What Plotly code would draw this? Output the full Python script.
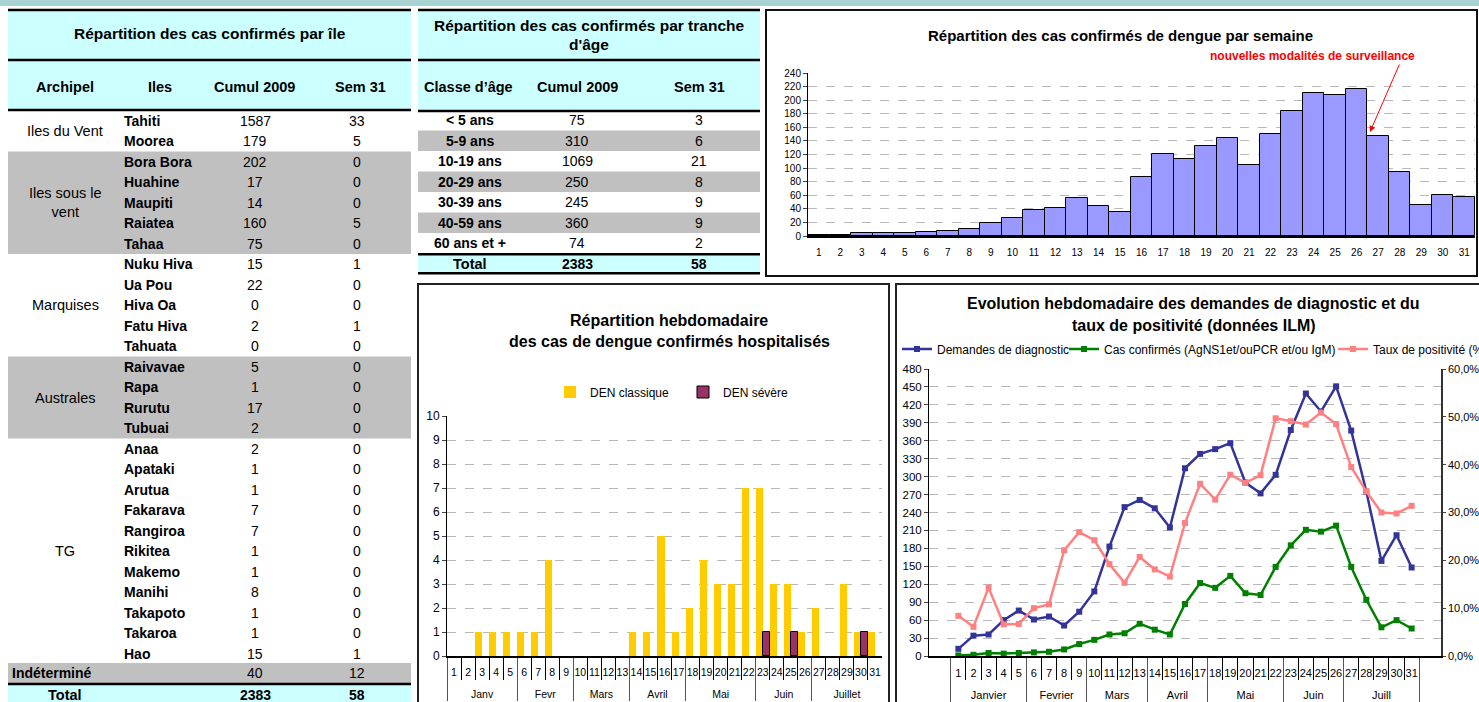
import plotly.graph_objects as go

W, H = 1479, 702
FONT = "Liberation Sans, Arial, sans-serif"


def X(p):
    return p / W


def Y(p):
    return 1 - p / H


# ---------------- data ----------------
archipels = ["Iles du Vent", "Iles sous le<br>vent", "Marquises", "Australes", "TG"]
archipel_sizes = [2, 5, 5, 4, 11]
iles = ["Tahiti", "Moorea", "Bora Bora", "Huahine", "Maupiti", "Raiatea", "Tahaa",
        "Nuku Hiva", "Ua Pou", "Hiva Oa", "Fatu Hiva", "Tahuata",
        "Raivavae", "Rapa", "Rurutu", "Tubuai",
        "Anaa", "Apataki", "Arutua", "Fakarava", "Rangiroa", "Rikitea", "Makemo",
        "Manihi", "Takapoto", "Takaroa", "Hao"]
cumul_iles = [1587, 179, 202, 17, 14, 160, 75, 15, 22, 0, 2, 0, 5, 1, 17, 2,
              2, 1, 1, 7, 7, 1, 1, 8, 1, 1, 15]
sem31_iles = [33, 5, 0, 0, 0, 5, 0, 1, 0, 0, 1, 0, 0, 0, 0, 0,
              0, 0, 0, 0, 0, 0, 0, 0, 0, 0, 1]
indetermine = ["Indéterminé", 40, 12]
total_iles = ["Total", 2383, 58]

classes_age = ["< 5 ans", "5-9 ans", "10-19 ans", "20-29 ans", "30-39 ans", "40-59 ans", "60 ans et +"]
cumul_age = [75, 310, 1069, 250, 245, 360, 74]
sem31_age = [3, 6, 21, 8, 9, 9, 2]
total_age = ["Total", 2383, 58]

weeks = [str(i) for i in range(1, 32)]
cas_semaine = [1, 2, 5, 5, 5, 6, 8, 11, 19, 27, 39, 41, 56, 44, 35, 87, 121, 113, 133, 145,
               104, 150, 184, 211, 208, 217, 147, 94, 46, 60, 58]

mois_hosp = ["Janv", "Fevr", "Mars", "Avril", "Mai", "Juin", "Juillet"]
mois_ilm = ["Janvier", "Fevrier", "Mars", "Avril", "Mai", "Juin", "Juill"]
semaines_par_mois = [5, 4, 4, 4, 5, 4, 5]
den_classique = [0, 0, 1, 1, 1, 1, 1, 4, 0, 0, 0, 0, 0, 1, 1, 5, 1, 2, 4, 3, 3, 7, 7, 3, 3, 1,
                 2, 0, 3, 1, 1]
den_severe = [0, 0, 0, 0, 0, 0, 0, 0, 0, 0, 0, 0, 0, 0, 0, 0, 0, 0, 0, 0, 0, 0, 1, 0, 1, 0,
              0, 0, 0, 1, 0]

demandes = [12, 34, 36, 60, 76, 61, 66, 51, 74, 108, 183, 249, 261, 247, 215, 314, 338, 346,
            356, 290, 272, 303, 378, 439, 409, 451, 377, 275, 159, 202, 148]
confirmes = [1, 2, 5, 4, 5, 6, 7, 11, 20, 27, 36, 38, 54, 44, 36, 87, 122, 114, 134, 105, 102,
             149, 185, 211, 208, 218, 149, 94, 48, 60, 46]
positivite = [8.4, 6.1, 14.3, 6.6, 6.7, 10.0, 10.8, 22.1, 25.9, 24.2, 19.2, 15.3, 20.7, 18.1,
              16.6, 27.8, 36.0, 32.7, 37.9, 36.2, 37.8, 49.7, 49.1, 48.4, 50.9, 48.5, 39.5,
              34.4, 30.0, 29.8, 31.4]

# ---------------- colours ----------------
CYAN = "#ccffff"
GRAY = "#c0c0c0"
TEAL = "#a9d3d3"

fig = go.Figure()

# top chart: weekly confirmed cases
fig.add_trace(go.Bar(x=weeks, y=cas_semaine, xaxis="x", yaxis="y", showlegend=False,
                     marker=dict(color="#9999ff", line=dict(color="black", width=1))))

# month level of the two-level week axes (blank first line pushes months below the weeks)
lvl_hosp = ["<br>" + m for m, n in zip(mois_hosp, semaines_par_mois) for _ in range(n)]
lvl_ilm = ["<br>" + m for m, n in zip(mois_ilm, semaines_par_mois) for _ in range(n)]

# hospitalised (multicategory)
fig.add_trace(go.Bar(x=[lvl_hosp, weeks], y=[v if v else None for v in den_classique],
                     name="DEN classique", xaxis="x2", yaxis="y2", legend="legend",
                     marker=dict(color="#ffcc00", line=dict(width=0))))
fig.add_trace(go.Bar(x=[lvl_hosp, weeks], y=[v if v else None for v in den_severe],
                     name="DEN sévère", xaxis="x2", yaxis="y2", legend="legend2",
                     marker=dict(color="#993366", line=dict(color="black", width=1))))

# ILM lines
fig.add_trace(go.Scatter(x=[lvl_ilm, weeks], y=demandes, name="Demandes de diagnostic",
                         mode="lines+markers", xaxis="x3", yaxis="y3", legend="legend3",
                         line=dict(color="#333399", width=2.5),
                         marker=dict(symbol="square", size=6, color="#333399")))
fig.add_trace(go.Scatter(x=[lvl_ilm, weeks], y=confirmes,
                         name="Cas confirmés (AgNS1et/ouPCR et/ou IgM)",
                         mode="lines+markers", xaxis="x3", yaxis="y3", legend="legend4",
                         line=dict(color="#008000", width=2.5),
                         marker=dict(symbol="square", size=6, color="#008000")))
fig.add_trace(go.Scatter(x=[lvl_ilm, weeks], y=positivite, name="Taux de positivité (%)",
                         mode="lines+markers", xaxis="x3", yaxis="y4", legend="legend5",
                         line=dict(color="#ff8080", width=2.5),
                         marker=dict(symbol="square", size=6, color="#ff8080")))

shapes = []


def rect(x0, y0, x1, y1, fill=None, line_color=None, lw=0, layer="below"):
    shapes.append(dict(type="rect", xref="paper", yref="paper", x0=X(x0), x1=X(x1),
                       y0=Y(y1), y1=Y(y0), fillcolor=fill or "rgba(0,0,0,0)",
                       line=dict(color=line_color or "rgba(0,0,0,0)", width=lw), layer=layer))


def hline(x0, x1, y, lw=2.5, color="black"):
    shapes.append(dict(type="line", xref="paper", yref="paper", x0=X(x0), x1=X(x1),
                       y0=Y(y), y1=Y(y), line=dict(color=color, width=lw), layer="above"))


annotations = []


def text(x, y, t, size=13, bold=False, anchor="center", color="black"):
    annotations.append(dict(xref="paper", yref="paper", x=X(x), y=Y(y),
                            text=f"<b>{t}</b>" if bold else str(t), showarrow=False,
                            xanchor=anchor, yanchor="middle",
                            font=dict(size=size, family=FONT, color=color)))


TITLE_FS, HEAD_FS, BODY_FS = 15.5, 14.5, 14

# top teal band
rect(0, 0, W, 6, fill=TEAL)

# ---------------- left table ----------------
LX0, LX1 = 8, 411
ROW0, DROW = 120.7, 20.51
rect(LX0, 10, LX1, 110, fill=CYAN)
hline(LX0, LX1, 10)
hline(LX0, LX1, 60)
hline(LX0, LX1, 110)
text((LX0 + LX1) / 2, 33, "Répartition des cas confirmés par île", TITLE_FS, True)
for t, xc in zip(["Archipel", "Iles", "Cumul 2009", "Sem 31"], [65, 160, 254, 360]):
    text(xc, 87, t, HEAD_FS, True)

start = 0
for k, (name, n) in enumerate(zip(archipels, archipel_sizes)):
    y_top = ROW0 + DROW * (start - 0.5)
    y_bot = ROW0 + DROW * (start + n - 0.5)
    if k in (1, 3):
        rect(LX0, y_top, LX1, y_bot, fill=GRAY)
    text(65, (y_top + y_bot) / 2, name, 14.5)
    start += n

for i, (ile, c, s) in enumerate(zip(iles, cumul_iles, sem31_iles)):
    yy = ROW0 + DROW * i
    text(122, yy, ile, BODY_FS, True, anchor="left")
    text(255, yy, c, BODY_FS)
    text(357, yy, s, BODY_FS)

yi = ROW0 + DROW * len(iles) - 1
rect(LX0, yi - 10.5, LX1, yi + 9.5, fill=GRAY)
text(10, yi, indetermine[0], BODY_FS, True, anchor="left")
text(255, yi, indetermine[1], BODY_FS)
text(357, yi, indetermine[2], BODY_FS)
hline(LX0, LX1, 684)
rect(LX0, 685, LX1, 705, fill=CYAN)
text(65, 695, total_iles[0], HEAD_FS, True)
text(255, 695, total_iles[1], BODY_FS, True)
text(357, 695, total_iles[2], BODY_FS, True)

# ---------------- middle table ----------------
MX0, MX1 = 418, 760
rect(MX0, 10, MX1, 111, fill=CYAN)
hline(MX0, MX1, 10)
hline(MX0, MX1, 60)
hline(MX0, MX1, 111)
text((MX0 + MX1) / 2, 25, "Répartition des cas confirmés par tranche", TITLE_FS, True)
text((MX0 + MX1) / 2, 45, "d'âge", TITLE_FS, True)
for t, xc in zip(["Classe d’âge", "Cumul 2009", "Sem 31"], [468, 577, 699]):
    text(xc, 87, t, HEAD_FS, True)
AR0, ADR = 120.3, 20.5
for i, (a, c, s) in enumerate(zip(classes_age, cumul_age, sem31_age)):
    yy = AR0 + ADR * i
    if i % 2 == 1:
        rect(MX0, yy - 10.25, MX1, yy + 10.25, fill=GRAY)
    text(470, yy, a, BODY_FS, True)
    text(577, yy, c, BODY_FS)
    text(699, yy, s, BODY_FS)
yt = AR0 + ADR * len(classes_age)
rect(MX0, yt - 9, MX1, yt + 9, fill=CYAN)
hline(MX0, MX1, yt - 9.5)
hline(MX0, MX1, yt + 9.5)
text(470, yt, total_age[0], HEAD_FS, True)
text(577, yt, total_age[1], BODY_FS, True)
text(699, yt, total_age[2], BODY_FS, True)

# ---------------- chart boxes ----------------
rect(766, 10, 1477, 276, line_color="#111111", lw=2, layer="above")
rect(418, 284, 889, 706, line_color="#222222", lw=2, layer="above")
rect(896, 284, 1484, 706, line_color="#222222", lw=2, layer="above")

# titles
text(1120, 35, "Répartition des cas confirmés de dengue par semaine", 15, True)
text(1312, 56, "nouvelles modalités de surveillance", 12, True, color="#ff0000")
annotations.append(dict(xref="paper", yref="paper", x=X(1370), y=Y(132), text="",
                        showarrow=True, ax=30, ay=-69, arrowhead=2, arrowsize=1.2,
                        arrowwidth=1, arrowcolor="#ff0000"))
text(669, 320, "Répartition hebdomadaire", 16, True)
text(669, 341, "des cas de dengue confirmés hospitalisés", 16, True)
text(1193, 303, "Evolution hebdomadaire des demandes de diagnostic et du", 16, True)
text(1194, 325, "taux de positivité (données ILM)", 16, True)

GRID = dict(showgrid=True, gridcolor="#b8b8b8", griddash="dash", gridwidth=1)
TF = lambda s: dict(size=s, family=FONT, color="black")


def leg(x, y, size=12, **kw):
    d = dict(x=X(x), y=Y(y), xanchor="left", yanchor="middle", orientation="h",
             bgcolor="rgba(0,0,0,0)", font=dict(size=size, family=FONT, color="black"))
    d.update(kw)
    return d


fig.update_layout(
    width=W, height=H, margin=dict(l=0, r=0, t=0, b=0, pad=0, autoexpand=False),
    paper_bgcolor="white", plot_bgcolor="rgba(0,0,0,0)",
    font=dict(family=FONT, color="black"),
    separators=", ",
    barmode="group", bargap=0, bargroupgap=0,
    shapes=shapes, annotations=annotations,
    legend=leg(550, 392),
    legend2=leg(683, 392),
    legend3=leg(897, 349),
    legend4=leg(1064, 349),
    legend5=leg(1333, 349, entrywidth=108, entrywidthmode="pixels"),
    xaxis=dict(domain=[X(808), X(1475)], anchor="y", type="category", tickfont=TF(10),
               showline=True, linecolor="black", linewidth=2, ticks="", ticklabelstandoff=6,
               showgrid=False, tickangle=0, automargin=False),
    yaxis=dict(domain=[Y(236), Y(73)], anchor="x", range=[0, 240], dtick=20, tickfont=TF(10),
               showline=True, linecolor="black", linewidth=1, ticks="outside", ticklen=4,
               zeroline=False, automargin=False, **GRID),
    xaxis2=dict(domain=[X(447), X(882)], anchor="y2", type="multicategory", tickfont=TF(10.5),
                showline=True, linecolor="black", linewidth=1.5, ticks="outside",
                tickson="boundaries", ticklen=22, tickcolor="black", showdividers=True,
                dividercolor="#555555", dividerwidth=1, tickangle=0, showgrid=False,
                ticklabelstandoff=6, automargin=False),
    yaxis2=dict(domain=[Y(656), Y(416)], anchor="x2", range=[0, 10], dtick=1, tickfont=TF(12),
                showline=True, linecolor="black", linewidth=1, ticks="outside", ticklen=4,
                zeroline=False, automargin=False, **GRID),
    xaxis3=dict(domain=[X(929), X(1441)], anchor="y3", type="multicategory", tickfont=TF(11),
                showline=True, linecolor="black", linewidth=1.5, ticks="outside",
                tickson="boundaries", ticklen=22, tickcolor="black", showdividers=True,
                dividercolor="#555555", dividerwidth=1, tickangle=0, showgrid=False,
                ticklabelstandoff=6, automargin=False),
    yaxis3=dict(domain=[Y(656), Y(369)], anchor="x3", range=[0, 480], dtick=30, tickfont=TF(11.5),
                showline=True, linecolor="black", linewidth=1, ticks="outside", ticklen=4,
                zeroline=False, automargin=False, **GRID),
    yaxis4=dict(overlaying="y3", anchor="x3", side="right", range=[0, 60], dtick=10,
                tickformat=".1f", ticksuffix="%", tickfont=TF(11), showline=True,
                linecolor="#333333", linewidth=1.5, ticks="outside", ticklen=3,
                showgrid=False, zeroline=False, automargin=False),
)

fig.write_html("out.html", config={"displayModeBar": False},
               post_script="document.body.style.margin='0';")
